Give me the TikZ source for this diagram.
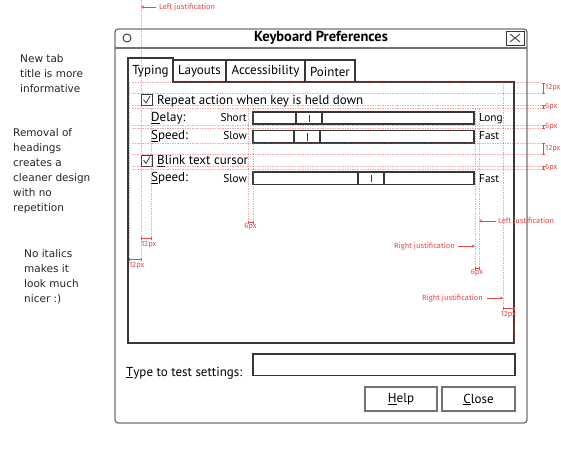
\documentclass[tikz,border=0pt]{standalone}
\usepackage{fontspec}
\setmainfont{PT Sans}
\newfontfamily\notefont{DejaVu Sans}
\newfontfamily\redfont{Fira Sans}
\usetikzlibrary{arrows.meta}
\definecolor{annred}{RGB}{235,70,70}
\definecolor{framecol}{RGB}{115,115,115}
\definecolor{ink}{RGB}{55,55,55}
\begin{document}
\begin{tikzpicture}[x=1pt,y=-1pt,
  ui/.style={inner sep=0pt, font=\fontsize{13}{15}\selectfont, text=black},
  uismall/.style={inner sep=0pt, font=\fontsize{11.3}{13}\selectfont, text=black},
  note/.style={inner sep=0pt, align=left, font=\notefont\fontsize{10.5}{15}\selectfont, text=black!85},
  redlbl/.style={inner sep=0pt, font=\redfont\fontsize{7.6}{9}\selectfont, text=annred},
  guide/.style={annred, opacity=0.45, line width=0.5pt, dash pattern=on 1.5pt off 1pt},
  redarrow/.style={annred, line width=0.6pt, -{Stealth[length=3pt,width=3pt]}},
  measure/.style={annred, line width=0.5pt, {Bar[width=3pt]}-{Bar[width=3pt]}},
  widget/.style={ink, line width=1.1pt},
  btn/.style={framecol, line width=1.1pt}
]
\useasboundingbox (0,0) rectangle (561,450);
\fill[white] (0,0) rectangle (561,450);

% ---- left notes
\node[note, anchor=north west] (n1) at (20,54) {New tab\\title is more\\informative};
\node[note, anchor=north west] (n2) at (13,128) {Removal of\\headings\\creates a\\cleaner design\\with no\\repetition};
\node[note, anchor=north west] (n3) at (24,249) {No italics\\makes it\\look much\\nicer :)};

% ---- window
\draw[framecol, line width=1.3pt, rounded corners=3pt] (115,29) rectangle (527,423);
\draw[framecol, line width=1.1pt] (115,48) -- (527,48);
\draw[ink, line width=0.9pt] (127,38) circle (4pt);
\node[inner sep=0pt, font=\bfseries\fontsize{14.5}{16}\selectfont] (title) at (321,38) {Keyboard Preferences};
\draw[ink, line width=0.9pt] (506,31) rectangle (524,45);
\draw[ink, line width=0.8pt] (510,34) -- (520,42) (510,42) -- (520,34);

% ---- tabs and panel
\draw[widget] (128,82) -- (128,58) -- (173,58) -- (173,82) -- (514,82) -- (514,343) -- (128,343) -- cycle;
\draw[widget] (173,60) rectangle (226,82);
\draw[widget] (226,60) rectangle (305,82);
\draw[widget] (305,60) rectangle (355,82);
\node[ui] (t1) at (150.5,71) {Typing};
\node[ui] (t2) at (199.5,71.5) {Layouts};
\node[ui] (t3) at (265.5,71.5) {Accessibility};
\node[ui] (t4) at (330,71.5) {Pointer};

% ---- repeat
\draw[ink, line width=0.8pt] (141,94.5) rectangle (152,105);
\draw[ink, line width=0.8pt] (143.5,99.5) -- (146,103) -- (150,96);
\node[ui, anchor=base west] (rep) at (157,104) {Repeat action when key is held down};

\node[ui, anchor=base west] (delay) at (151,121.5) {\underline{D}elay:};
\node[uismall, anchor=base east] (short) at (247,121.5) {Short};
\draw[widget] (253,112) rectangle (474,124);
\draw[widget] (296,112) rectangle (322,124);
\draw[ink, line width=0.8pt] (309,114.5) -- (309,121.5);
\node[uismall, anchor=base west] (long) at (479,121.5) {Long};

\node[ui, anchor=base west] (speed1) at (151,139.5) {\underline{S}peed:};
\node[uismall, anchor=base east] (slow1) at (247,139.5) {Slow};
\draw[widget] (253,130.5) rectangle (474,143);
\draw[widget] (294,130.5) rectangle (320,143);
\draw[ink, line width=0.8pt] (307,133) -- (307,140.5);
\node[uismall, anchor=base west] (fast1) at (479,139.5) {Fast};

% ---- blink
\draw[ink, line width=0.8pt] (141,155) rectangle (152,166);
\draw[ink, line width=0.8pt] (143.5,160) -- (146,163.5) -- (150,156.5);
\node[ui, anchor=base west] (blink) at (157,164.5) {\underline{B}link text cursor};

\node[ui, anchor=base west] (speed2) at (151,181.5) {\underline{S}peed:};
\node[uismall, anchor=base east] (slow2) at (247,182) {Slow};
\draw[widget] (253,172) rectangle (474,184.5);
\draw[widget] (358,172) rectangle (384,184.5);
\draw[ink, line width=0.8pt] (371,174.5) -- (371,182);
\node[uismall, anchor=base west] (fast2) at (479,182) {Fast};

% ---- test row and buttons
\node[ui, anchor=base west] (test) at (126,376) {\underline{T}ype to test settings:};
\draw[widget] (253,354) rectangle (515,375.5);
\draw[btn] (365,387) rectangle (437,411);
\draw[btn] (442,387) rectangle (515,411);
\node[ui] (help) at (401,399.5) {\underline{H}elp};
\node[ui] (close) at (478.5,399.5) {\underline{C}lose};

% ---- horizontal guides
\foreach \yy in {82.7,93.3,105,108.3,125,128.3,143.3,154.3,166,169.3}
  \draw[guide] (132,\yy) -- (541,\yy);
% ---- vertical guides
\draw[guide] (129,82) -- (129,259);
\draw[guide] (141,0) -- (141,259);
\draw[guide] (151,108) -- (151,238);
\draw[guide] (248,108) -- (248,222);
\draw[guide] (253,108) -- (253,222);
\draw[guide] (475,108) -- (475,268);
\draw[guide] (479,108) -- (479,268);
\draw[guide] (503,82) -- (503,308);
\draw[guide] (514,343) -- (514,308);

% ---- right measures
\draw[measure] (543,82.7) -- (543,93.3);
\node[redlbl, anchor=west] (m1) at (545,88) {12px};
\draw[measure] (543,105) -- (543,108.3);
\node[redlbl, anchor=west] (m2) at (545,107) {6px};
\draw[measure] (543,125) -- (543,128.3);
\node[redlbl, anchor=west] (m3) at (545,127) {6px};
\draw[measure] (543,143.3) -- (543,154.3);
\node[redlbl, anchor=west] (m4) at (545,149) {12px};
\draw[measure] (543,166) -- (543,169.3);
\node[redlbl, anchor=west] (m5) at (545,168) {6px};

% ---- bottom measures
\draw[measure] (141,238) -- (151,238);
\node[redlbl, anchor=west] (b1) at (141,244.5) {12px};
\draw[measure] (129,259) -- (141,259);
\node[redlbl, anchor=west] (b2) at (129,265.5) {12px};
\draw[measure] (248,222) -- (253,222);
\node[redlbl] (b3) at (250.5,226.5) {6px};
\draw[measure] (475,268) -- (479,268);
\node[redlbl] (b4) at (477,272.5) {6px};
\draw[measure] (503,308) -- (514,308);
\node[redlbl] (b5) at (508.5,315) {12px};

% ---- justification arrows
\coordinate (j0) at (141,7);
\node[redlbl, anchor=west] (lj0) at (159,7) {Left justification};
\draw[redarrow] (lj0.west) ++(-3,0) -- (j0);
\coordinate (j1) at (479,221);
\node[redlbl, anchor=west] (lj1) at (498,221) {Left justification};
\draw[redarrow] (lj1.west) ++(-2,0) -- (j1);
\coordinate (j2) at (475,246);
\node[redlbl, anchor=east] (rj1) at (455,246) {Right justification};
\draw[redarrow] (rj1.east) ++(3,0) -- (j2);
\coordinate (j3) at (503,298);
\node[redlbl, anchor=east] (rj2) at (483,298) {Right justification};
\draw[redarrow] (rj2.east) ++(4,0) -- (j3);
\end{tikzpicture}
\end{document}
